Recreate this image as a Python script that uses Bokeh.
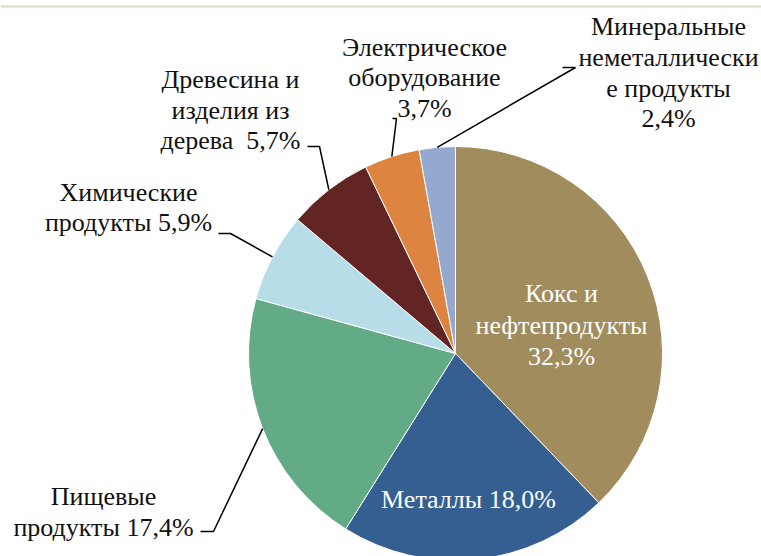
import math
from bokeh.plotting import figure
from bokeh.models import Range1d, ColumnDataSource
from bokeh.core.properties import value
from bokeh.embed import file_html
from bokeh.resources import INLINE

# ---- data ----
categories = ["Кокс и нефтепродукты", "Металлы", "Пищевые продукты",
              "Химические продукты", "Древесина и изделия из дерева",
              "Электрическое оборудование", "Минеральные неметаллические продукты"]
shares = [32.3, 18.0, 17.4, 5.9, 5.7, 3.7, 2.4]
colors = ["#A08C5D", "#355F91", "#62AB86", "#B7DEE8", "#632523", "#DD8441", "#94A8D0"]

# ---- layout (screen pixel coordinates of the reference) ----
W, H = 761, 556
CX, CY, R = 455, 353, 207
FS = "26px"

def dy(y):  # screen y -> data y
    return 556 - y

label_layout = [
    (["Кокс и", "нефтепродукты", "{p}"], 561, [293, 325, 356], "white"),
    (["Металлы {p}"], 468, [499], "white"),
    (["Пищевые", "продукты {p}"], 103, [496, 527], "#111111"),
    (["Химические", "продукты {p}"], 128, [192, 222], "#111111"),
    (["Древесина и", "изделия из", "дерева \u00a0{p}"], 230, [79, 110, 140], "#111111"),
    (["Электрическое", "оборудование", "{p}"], 424, [47, 77, 108], "#111111"),
    (["Минеральные", "неметаллически", "е продукты", "{p}"], 668, [26, 57, 88, 118], "#111111"),
]
leader_elbows = {
    2: [(200, 531), (213, 531)],
    3: [(218, 233), (230, 233)],
    4: [(307, 146), (319, 146)],
    5: [(392, 118), (396, 118)],
    6: [(562, 67), (575, 67)],
}

p = figure(width=W, height=H, output_backend="svg", toolbar_location=None,
           x_range=Range1d(0, W), y_range=Range1d(556 - H, 556),
           min_border=0, background_fill_color="white", border_fill_color="white")
p.axis.visible = False
p.grid.visible = False
p.outline_line_color = None

# top rule
p.line(x=[0, W], y=[dy(6), dy(6)], line_color="#DDD9C3", line_width=2)

total = sum(shares)
starts, ends, mids = [], [], []
cum = 0.0
for v in shares:
    a0 = math.pi / 2 - cum / total * 2 * math.pi
    cum += v
    a1 = math.pi / 2 - cum / total * 2 * math.pi
    starts.append(a0)
    ends.append(a1)
    mids.append((a0 + a1) / 2)

src = ColumnDataSource(dict(x=[CX] * len(shares), y=[dy(CY)] * len(shares),
                            start=starts, end=ends, color=colors, cat=categories))
p.wedge(x="x", y="y", radius=R, start_angle="start", end_angle="end",
        direction="clock", fill_color="color", line_color="white",
        line_width=1, source=src)

for i, elbow in leader_elbows.items():
    ex = CX + R * math.cos(mids[i])
    ey = dy(CY) + R * math.sin(mids[i])
    xs = [pt[0] for pt in elbow] + [ex]
    ys = [dy(pt[1]) for pt in elbow] + [ey]
    p.line(x=xs, y=ys, line_color="black", line_width=1.5)

for i, (lines, lx, lys, col) in enumerate(label_layout):
    pct = f"{shares[i]:.1f}".replace(".", ",") + "%"
    texts = [ln.replace("{p}", pct) for ln in lines]
    p.text(x=[lx] * len(texts), y=[dy(y) for y in lys], text=texts,
           text_font=value("Liberation Serif"), text_font_size=FS, text_align="center",
           text_baseline="middle", text_color=col)

open("out.html", "w").write(file_html(p, INLINE))
